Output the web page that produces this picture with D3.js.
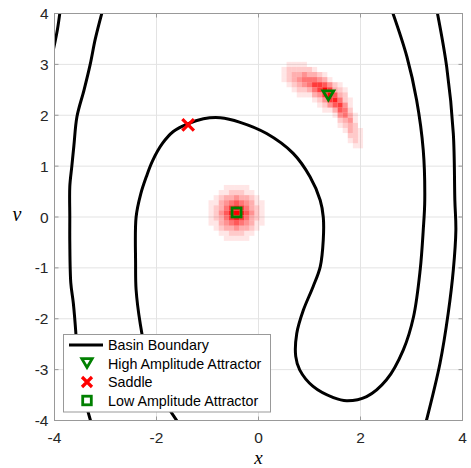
<!DOCTYPE html>
<html><head><meta charset="utf-8">
<script src="https://cdn.jsdelivr.net/npm/d3@7"></script>
<style>body{margin:0;background:#fff}svg{display:block}</style>
</head><body>
<script>
// ---- data ----
const xTicks = [-4, -2, 0, 2, 4];
const yTicks = [-4, -3, -2, -1, 0, 1, 2, 3, 4];
// basin boundary curves [x, v]
const boundaryStub = [[-3.89,4.05],[-3.94,3.7],[-3.99,3.44],[-4.02,3.3]];
const boundaryLeft = [[-3.06,4.05],[-3.20,3.5],[-3.30,3.0],[-3.42,2.5],[-3.56,1.97],[-3.62,1.4],[-3.66,1.0],[-3.70,0.6],[-3.70,0],[-3.70,-0.5],[-3.68,-1.3],[-3.63,-1.7],[-3.58,-2.3],[-3.54,-3.0],[-3.43,-3.5],[-3.28,-4.05]];
const boundaryMain = [[-1.57,-4.05],[-1.93,-3.46],[-2.19,-2.74],[-2.32,-2.09],[-2.40,-1.43],[-2.41,-0.91],[-2.40,0],[-2.31,0.45],[-2.20,0.79],[-2.08,1.10],[-1.88,1.45],[-1.67,1.68],[-1.39,1.83],[-1.08,1.93],[-0.75,1.95],[-0.36,1.86],[0.16,1.64],[0.68,1.25],[1.01,0.79],[1.21,0.33],[1.27,0],[1.27,-0.45],[1.21,-0.98],[1.07,-1.37],[0.88,-1.83],[0.75,-2.29],[0.73,-2.74],[0.81,-3.01],[1.07,-3.33],[1.47,-3.55],[1.73,-3.61],[2.12,-3.53],[2.51,-3.20],[2.84,-2.61],[3.04,-1.96],[3.17,-1.04],[3.23,-0.26],[3.26,0.33],[3.23,1.32],[3.10,2.30],[2.91,3.15],[2.62,4.05]];
const boundaryRight = [[3.50,4.05],[3.69,2.95],[3.82,1.64],[3.85,0.33],[3.87,-0.26],[3.82,-1.04],[3.72,-1.89],[3.56,-2.87],[3.28,-4.05]];
// special points
const highAttractor = [1.37, 2.40];
const saddle = [-1.38, 1.81];
const lowAttractor = [-0.43, 0.09];
// density cells (0-9), cell size 0.1; rows top (high v) to bottom, origin = first cell centre
const highDensityOrigin = [0.5, 3.0];
const highDensity = [
 "0111100000000000",
 "1222221000000000",
 "1233433210000000",
 "1234555431000000",
 "0123457764210000",
 "0012235797321000",
 "0001113479632000",
 "0000001247852100",
 "0000000124674100",
 "0000000011365200",
 "0000000000145310",
 "0000000000023410",
 "0000000000012320",
 "0000000000001321",
 "0000000000000221",
 "0000000000000121",
 "0000000000000011"];
const lowDensityOrigin = [-0.93, 0.58];
const lowDensity = [
 "00011111000",
 "00112221100",
 "01233433210",
 "11345654311",
 "12357875321",
 "12468986421",
 "12357875321",
 "11345654311",
 "01233433210",
 "00112221100",
 "00011111000"];
const legendLabels = ["Basin Boundary","High Amplitude Attractor","Saddle","Low Amplitude Attractor"];

// ---- drawing ----
const W = 471, H = 468;
const m = {l:54.5, r:462.5, t:13.5, b:420.5};
const x = d3.scaleLinear().domain([-4,4]).range([m.l, m.r]);
const y = d3.scaleLinear().domain([-4,4]).range([m.b, m.t]);
const svg = d3.select("body").append("svg").attr("width",W).attr("height",H);
const font = "'Liberation Sans', Arial, Helvetica, sans-serif";

svg.append("defs").append("clipPath").attr("id","clip")
  .append("rect").attr("x",m.l).attr("y",m.t).attr("width",m.r-m.l).attr("height",m.b-m.t);

// grid
const grid = svg.append("g");
grid.selectAll(".gx").data(xTicks).join("line")
  .attr("x1",d=>x(d)).attr("x2",d=>x(d)).attr("y1",m.t).attr("y2",m.b)
  .attr("stroke","#e3e3e3").attr("stroke-width",1);
grid.selectAll(".gy").data(yTicks).join("line")
  .attr("y1",d=>y(d)).attr("y2",d=>y(d)).attr("x1",m.l).attr("x2",m.r)
  .attr("stroke","#e3e3e3").attr("stroke-width",1);

// density
function drawDensity(rows, origin){
  const cells = [];
  rows.forEach((r,i)=>{ for(let j=0;j<r.length;j++){ const v=+r[j]; if(v>0) cells.push({cx:origin[0]+j*0.1, cy:origin[1]-i*0.1, v}); } });
  const g = svg.append("g").attr("clip-path","url(#clip)");
  g.selectAll("rect").data(cells).join("rect")
    .attr("x",d=>x(d.cx-0.05)).attr("y",d=>y(d.cy+0.05))
    .attr("width",x(0.1)-x(0)).attr("height",y(0)-y(0.1))
    .attr("fill","#ff0000").attr("fill-opacity",d=>Math.pow(d.v/9,1.05));
}
drawDensity(highDensity, highDensityOrigin);
drawDensity(lowDensity, lowDensityOrigin);

// boundaries
const line = d3.line().x(d=>x(d[0])).y(d=>y(d[1])).curve(d3.curveCatmullRom.alpha(0.5));
const bg = svg.append("g").attr("clip-path","url(#clip)");
[boundaryStub, boundaryLeft, boundaryMain, boundaryRight].forEach(c=>{
  bg.append("path").attr("d",line(c)).attr("fill","none").attr("stroke","#000").attr("stroke-width",3).attr("stroke-linejoin","round");
});

// frame
svg.append("rect").attr("x",m.l).attr("y",m.t).attr("width",m.r-m.l).attr("height",m.b-m.t)
  .attr("fill","none").attr("stroke","#999").attr("stroke-width",1);
// ticks (inward)
const tk = svg.append("g").attr("stroke","#999");
xTicks.forEach(t=>{ tk.append("line").attr("x1",x(t)).attr("x2",x(t)).attr("y1",m.b).attr("y2",m.b-4);
  tk.append("line").attr("x1",x(t)).attr("x2",x(t)).attr("y1",m.t).attr("y2",m.t+4); });
yTicks.forEach(t=>{ tk.append("line").attr("y1",y(t)).attr("y2",y(t)).attr("x1",m.l).attr("x2",m.l+4);
  tk.append("line").attr("y1",y(t)).attr("y2",y(t)).attr("x1",m.r).attr("x2",m.r-4); });

// tick labels
svg.append("g").selectAll("text").data(xTicks).join("text")
  .attr("x",d=>x(d)).attr("y",442.5).attr("text-anchor","middle")
  .attr("font-family",font).attr("font-size",15.5).attr("fill","#262626").text(d=>d);
svg.append("g").selectAll("text").data(yTicks).join("text")
  .attr("x",m.l-6).attr("y",d=>y(d)+5.5).attr("text-anchor","end")
  .attr("font-family",font).attr("font-size",15.5).attr("fill","#262626").text(d=>d);
// axis labels
svg.append("text").attr("x",x(0)).attr("y",463.6).attr("text-anchor","middle")
  .attr("font-family","'Liberation Serif','DejaVu Serif',serif").attr("font-style","italic")
  .attr("font-size",19).attr("fill","#000").text("x");
svg.append("text").attr("x",17).attr("y",y(0)+3.5).attr("text-anchor","middle")
  .attr("font-family","'Liberation Serif','DejaVu Serif',serif").attr("font-style","italic")
  .attr("font-size",20).attr("fill","#000").text("v");

// markers
const green = "#008000";
function triangle(g, cx, cy, s){
  g.append("path").attr("d",`M${cx-s},${cy-s*0.75}L${cx+s},${cy-s*0.75}L${cx},${cy+s*0.95}Z`)
   .attr("fill","none").attr("stroke",green).attr("stroke-width",2.8).attr("stroke-linejoin","miter");
}
function cross(g, cx, cy, s){
  g.append("path").attr("d",`M${cx-s},${cy-s}L${cx+s},${cy+s}M${cx-s},${cy+s}L${cx+s},${cy-s}`)
   .attr("fill","none").attr("stroke","#ff0000").attr("stroke-width",3.2);
}
function square(g, cx, cy, s){
  g.append("rect").attr("x",cx-s).attr("y",cy-s).attr("width",2*s).attr("height",2*s)
   .attr("fill","none").attr("stroke",green).attr("stroke-width",2.8);
}
const mk = svg.append("g");
triangle(mk, x(highAttractor[0]), y(highAttractor[1]), 5.4);
cross(mk, x(saddle[0]), y(saddle[1]), 5.8);
square(mk, x(lowAttractor[0]), y(lowAttractor[1]), 4.5);

// legend
const lg = svg.append("g");
lg.append("rect").attr("x",63.5).attr("y",334.5).attr("width",207).attr("height",77.5)
  .attr("fill","#fff").attr("stroke","#999").attr("stroke-width",1);
const ly = [345, 363.5, 382, 400.5];
lg.append("line").attr("x1",69).attr("x2",103).attr("y1",ly[0]).attr("y2",ly[0]).attr("stroke","#000").attr("stroke-width",3);
triangle(lg, 87, ly[1]-1, 5.2);
cross(lg, 87, ly[2], 5);
square(lg, 87, ly[3], 4.3);
lg.selectAll("text").data(legendLabels).join("text")
  .attr("x",108).attr("y",(d,i)=>ly[i]+5).attr("font-family",font).attr("font-size",14.3)
  .attr("fill","#000").text(d=>d);
</script>
</body></html>
